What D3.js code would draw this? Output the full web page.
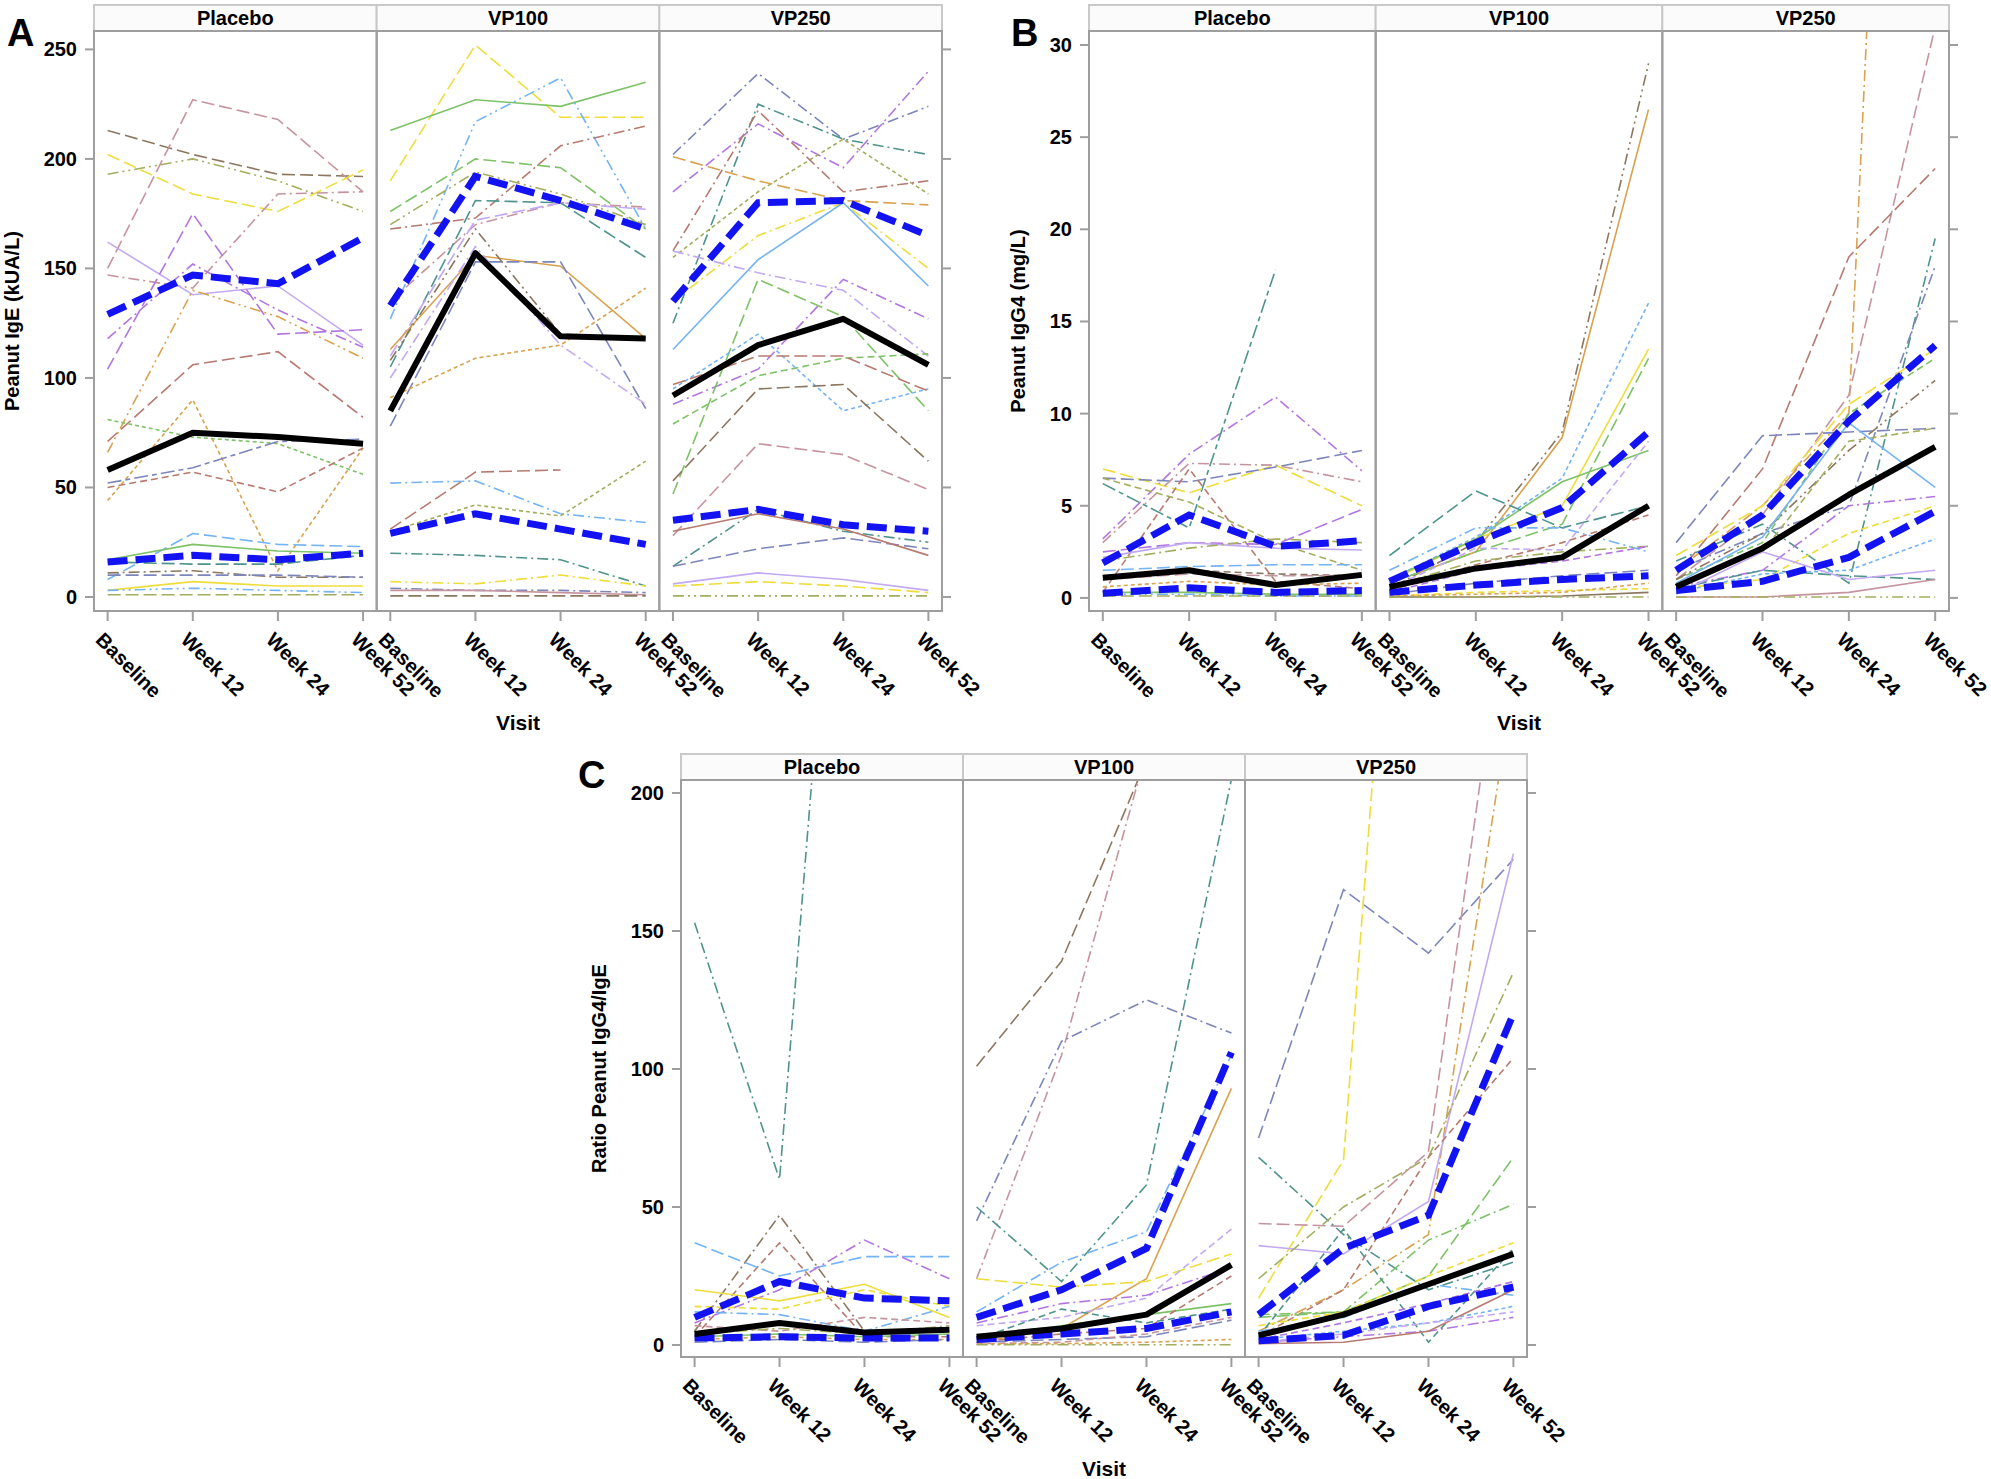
<!DOCTYPE html>
<html>
<head>
<meta charset="utf-8">
<script src="https://cdn.jsdelivr.net/npm/d3@7"></script>
<style>
  body { margin: 0; background: #fff; }
  svg text { font-family: "Liberation Sans", Arial, sans-serif; font-weight: bold; fill: #000; }
</style>
</head>
<body>
<script>
// visits and arms
const visits = ["Baseline", "Week 12", "Week 24", "Week 52"];
const arms = ["Placebo", "VP100", "VP250"];

// ---- Panel A: peanut IgE (kUA/L), one row per subject ----
const igePlacebo = [
  [213,202,193,192],[150,227,218,185],[202,184,176,195],[193,200,190,176],
  [147,141,184,185],[162,138,142,115],[104,175,120,122],[118,152,131,114],
  [66,140,128,109],[71,106,112,82],[44,90,12,68],[81,73,70,56],
  [52,59,71,72],[50,57,48,68],[8,29,24,23],[17,24,21,20],
  [16,15,15,19],[11,12,9,9],[10,10,10,9],[3,7,5,5],[3,4,3,2],[1,1,1,1]
];
const igePlaceboStyle = ["brown/LD","pink/LD","yellow/LD","olive/DDD","pink/DD","lavender/S","violet/LD","violet/DD",
  "tan/DDD","red/LD","tan/SD","green/SD","slate/LDSD","red/D","blue/LD","green/S",
  "teal/LD","brown/DD","slate/LD","yellow/S","blue/DDD","olive/LD"];

const igeVP100 = [
  [190,252,219,219],[213,227,224,235],[127,217,237,168],[168,173,206,215],
  [176,200,196,168],[170,194,184,170],[135,170,180,178],[105,181,180,155],
  [110,172,180,177],[113,156,151,118],[78,153,153,86],[108,168,120,118],
  [91,109,115,141],[100,160,115,88],[31,57,58,null],[52,53,38,34],
  [30,42,37,62],[20,19,17,5],[7,6,10,5],[4,3,3,2],[3,3,2,1],[0.5,0.5,0.5,0.5]
];
const igeVP100Style = ["yellow/LD","green/S","blue/DDD","red/DD","green/LD","olive/DDD","pink/DD","teal/LD",
  "lavender/LD","tan/S","slate/LD","brown/DDD","tan/SD","lavender/DD","red/LD","blue/DD",
  "olive/SD","teal/DD","yellow/DD","slate/DD","pink/S","brown/LD"];

const igeVP250 = [
  [202,239,209,224],[185,216,196,240],[125,225,209,202],[155,185,209,184],
  [158,222,185,190],[201,190,181,179],[135,165,180,150],[113,154,180,142],
  [158,148,140,110],[88,104,145,127],[47,145,128,85],[79,101,109,111],
  [95,120,85,95],[97,110,110,94],[53,95,97,62],[28,70,65,49],
  [14,40,30,25],[14,22,27,22],[30,38,31,19],[6,11,8,3],[5,7,5,2],[0.5,0.5,0.5,0.5]
];
const igeVP250Style = ["slate/DD","violet/DD","teal/DD","olive/SD","red/DD","tan/LD","yellow/DD","blue/S",
  "lavender/DD","violet/DD","green/LD","green/D","blue/SD","red/LD","brown/LD","pink/LD",
  "teal/DD","slate/LD","red/S","lavender/S","yellow/LD","olive/DDD"];

const igeMedian = [[58,75,73,70],[85,157,119,118],[92,115,127,106]];
const igeQ1 = [[16,19,17,20],[29,38,31,24],[35,40,33,30]];
const igeQ3 = [[129,147,143,164],[133,192,181,168],[135,180,181,165]];

// ---- Panel B: peanut IgG4 (mg/L) ----
const igg4Placebo = [
  [6.2,3.8,17.8,null],[3.2,7.8,10.9,6.9],[7.0,5.7,7.2,5.0],[6.5,6.3,7.1,8.0],
  [3.0,7.3,7.2,6.3],[0.3,7.0,0.9,0.5],[6.5,5.2,3.0,1.5],[2.5,3.0,2.9,4.8],
  [2.2,3.0,2.7,2.6],[2.0,2.7,3.2,3.0],[1.5,1.7,1.8,1.8],[1.2,1.5,1.3,1.2],
  [1.0,1.3,1.2,1.2],[0.6,0.9,0.7,0.8],[0.3,0.3,0.2,0.2],[0.2,0.2,0.1,0.1],[0.1,0.1,0.1,0.1]
];
const igg4PlaceboStyle = ["teal/LDSD","violet/DD","yellow/LD","slate/LD","pink/DD","red/D","olive/D","violet/LD",
  "lavender/S","olive/DD","blue/LD","brown/D","pink/LD","tan/SD","green/S","blue/DDD","olive/LD"];

const igg4VP100 = [
  [0.5,3.0,9.0,29.0],[0.8,2.5,8.7,26.5],[1.0,3.3,6.5,16.0],[0.9,3.2,5.0,13.5],
  [0.8,2.5,4.0,13.0],[1.0,3.2,6.3,8.0],[2.3,5.8,3.8,5.0],[1.5,3.8,3.8,2.5],
  [0.5,2.7,2.6,8.5],[0.4,1.8,3.0,4.5],[0.6,2.0,2.5,2.8],[0.3,1.5,2.0,2.8],
  [0.2,0.8,1.2,1.5],[0.1,0.3,0.4,0.5],[0.1,0.2,0.3,0.8],[0.05,0.05,0.1,0.3],[0.05,0.05,0.05,0.05]
];
const igg4VP100Style = ["brown/DDD","tan/S","blue/SD","yellow/S","green/LD","green/S","teal/LD","blue/DD",
  "lavender/D","red/D","olive/DD","violet/D","slate/LD","yellow/D","tan/SD","brown/S","olive/DDD"];

const igg4VP250 = [
  [1.5,5.0,10.0,110],[1.0,4.5,11,31],[1.2,7.0,18.5,23.3],[3.0,8.8,9.0,9.2],
  [2.0,4.0,0.8,19.5],[1.5,3.5,5.0,18.0],[2.3,5.0,10.5,13.5],[1.0,3.0,10.0,13.0],
  [1.0,3.5,8.0,11.8],[0.8,2.5,8.5,9.2],[0.8,3.3,9.5,6.0],[0.6,1.5,5.0,5.5],
  [0.5,1.0,3.5,5.0],[0.5,1.5,1.2,1.0],[0.3,1.3,1.5,3.2],[0.2,2.5,1.0,1.5],
  [0.05,0.05,0.3,1.0],[0.05,0.05,0.05,0.05]
];
const igg4VP250Style = ["tan/DD","pink/LD","red/LD","slate/LD","teal/DD","slate/DD","yellow/LD","green/D",
  "brown/DDD","olive/D","blue/S","violet/DD","yellow/D","teal/LD","blue/SD","lavender/S","pink/S","olive/DDD"];

const igg4Median = [[1.1,1.5,0.7,1.25],[0.6,1.6,2.2,5.0],[0.6,2.7,5.6,8.2]];
const igg4Q1 = [[0.25,0.55,0.3,0.4],[0.3,0.7,1.0,1.2],[0.4,0.9,2.2,4.7]];
const igg4Q3 = [[1.9,4.5,2.8,3.1],[0.9,3.0,4.9,9.0],[1.5,4.5,9.6,13.7]];

// ---- Panel C: ratio peanut IgG4/IgE ----
const ratioPlacebo = [
  [153,60,440,400],[5,47,5,5],[3,37,3,3],[37,25,32,32],[8,20,38,24],
  [20,16,22,10],[14,13,20,14],[12,11,5,14],[7,5,10,8],[4,6,4,7],
  [3,4,3,4],[2,3,2,2],[1,2,1,2]
];
const ratioPlaceboStyle = ["teal/DD","brown/DD","red/D","blue/LD","violet/DD","yellow/S","yellow/D","blue/DD",
  "pink/D","olive/DD","green/S","tan/SD","slate/LD"];

const ratioVP100 = [
  [101,139,212,300],[24,105,215,350],[45,110,125,113],[50,23,58,205],
  [12,30,41,105],[1,6,24,93],[24,21,23,33],[7,10,17,42],
  [8,15,18,28],[3,7,11,15],[2,13,8,13],[1,4,6,25],
  [1,2,3,9],[0.5,1,4,10],[0.3,0.5,1,2],[0.1,0.1,0.1,0.1]
];
const ratioVP100Style = ["brown/LD","pink/DD","slate/DD","teal/DD","blue/DD","tan/S","yellow/LD","lavender/D",
  "violet/DD","green/S","teal/D","red/D","slate/LD","pink/D","tan/SD","olive/DDD"];

const ratioVP250 = [
  [75,165,142,176],[17,67,470,450],[44,43,70,290],[5,20,40,240],
  [36,33,52,178],[68,40,20,30],[24,50,68,135],[3,20,68,104],
  [10,12,25,68],[11,12,38,51],[7,12,25,37],[5,10,22,18],
  [3,42,1,35],[2,8,15,23],[2,5,8,14],[1,3,5,10],[0.5,1,5,20],[1,4,8,12]
];
const ratioVP250Style = ["slate/LD","yellow/LD","pink/LD","tan/DD","lavender/S","teal/DD","olive/DD","red/D",
  "green/LD","green/DD","yellow/D","blue/DD","teal/D","violet/D","blue/SD","violet/DD","red/S","lavender/D"];

const ratioMedian = [[4,8,4.5,5.5],[3,6,11,29],[3.5,11,22,33]];
const ratioQ1 = [[2.5,3,2.5,2.5],[2,4,6,12],[1.5,3.5,14,21]];
const ratioQ3 = [[10,23,17,16],[10,20,35,106],[11,35,47,120]];

// y tick values
const igeTicks = [0, 50, 100, 150, 200, 250];
const igg4Ticks = [0, 5, 10, 15, 20, 25, 30];
const ratioTicks = [0, 50, 100, 150, 200];

// subject line colours (SAS palette, faded) and dash patterns
const colors = {
  slate: "#7d86ba", red: "#b77a70", teal: "#4f948c", brown: "#8c7760",
  violet: "#b176e2", olive: "#a4ad5e", blue: "#74b3f4", pink: "#c6949f",
  tan: "#d9a24f", green: "#7dc267", lavender: "#c2a9f2", yellow: "#eedd3a"
};
const dashes = {
  S: null, SD: "4,3", D: "7,4", LD: "13,5", DD: "11,4,2,4", DDD: "11,4,2,4,2,4", LDSD: "14,4,5,4"
};

const panels = [
  { letter: "A", lx: 7, ly: 46, left: 94, right: 942, top: 31, bottom: 611,
    yDomain: [-6.4, 258.4], ticks: igeTicks, title: "Peanut IgE (kUA/L)",
    rows: [igePlacebo, igeVP100, igeVP250], styles: [igePlaceboStyle, igeVP100Style, igeVP250Style],
    med: igeMedian, q1: igeQ1, q3: igeQ3 },
  { letter: "B", lx: 1011, ly: 46, left: 1089, right: 1949, top: 31, bottom: 611,
    yDomain: [-0.71, 30.76], ticks: igg4Ticks, title: "Peanut IgG4 (mg/L)",
    rows: [igg4Placebo, igg4VP100, igg4VP250], styles: [igg4PlaceboStyle, igg4VP100Style, igg4VP250Style],
    med: igg4Median, q1: igg4Q1, q3: igg4Q3 },
  { letter: "C", lx: 578, ly: 788, left: 681, right: 1527, top: 780, bottom: 1357,
    yDomain: [-4.35, 204.7], ticks: ratioTicks, title: "Ratio Peanut IgG4/IgE",
    rows: [ratioPlacebo, ratioVP100, ratioVP250], styles: [ratioPlaceboStyle, ratioVP100Style, ratioVP250Style],
    med: ratioMedian, q1: ratioQ1, q3: ratioQ3 }
];

const svg = d3.select("body").append("svg")
  .attr("width", 1991).attr("height", 1479);

const frameColor = "#9e9e9e";

panels.forEach((p, pi) => {
  const g = svg.append("g");
  const y = d3.scaleLinear().domain(p.yDomain).range([p.bottom, p.top]);
  const facetW = (p.right - p.left) / 3;

  // panel letter
  g.append("text").attr("x", p.lx).attr("y", p.ly)
    .style("font-size", "38px").text(p.letter);

  arms.forEach((arm, ai) => {
    const fl = p.left + ai * facetW, fr = fl + facetW;
    const x = d3.scalePoint().domain(visits).range([fl, fr]).padding(0.16);
    const clipId = `clip-${pi}-${ai}`;
    g.append("clipPath").attr("id", clipId).append("rect")
      .attr("x", fl).attr("y", p.top).attr("width", facetW).attr("height", p.bottom - p.top);

    // strip header
    g.append("rect").attr("x", fl).attr("y", p.top - 26).attr("width", facetW).attr("height", 26)
      .attr("fill", "#fbfbfb").attr("stroke", "#c9c9c9").attr("stroke-width", 2);
    g.append("text").attr("x", (fl + fr) / 2).attr("y", p.top - 6)
      .attr("text-anchor", "middle").style("font-size", "20px").text(arm);

    const line = d3.line()
      .defined(v => v !== null)
      .x((v, i) => x(visits[i]))
      .y(v => y(v));

    const lines = g.append("g").attr("clip-path", `url(#${clipId})`);

    // individual subjects
    p.rows[ai].forEach((row, ri) => {
      const [c, d] = p.styles[ai][ri].split("/");
      lines.append("path").attr("d", line(row))
        .attr("fill", "none").attr("stroke", colors[c]).attr("stroke-width", 1.6)
        .attr("stroke-dasharray", dashes[d]);
    });

    // quartiles and median
    [p.q1[ai], p.q3[ai]].forEach(q => {
      lines.append("path").attr("d", line(q))
        .attr("fill", "none").attr("stroke", "#1212f2").attr("stroke-width", 7)
        .attr("stroke-dasharray", "20,8");
    });
    lines.append("path").attr("d", line(p.med[ai]))
      .attr("fill", "none").attr("stroke", "#000").attr("stroke-width", 6)
      .attr("stroke-linejoin", "round");

    // facet frame
    g.append("rect").attr("x", fl).attr("y", p.top).attr("width", facetW).attr("height", p.bottom - p.top)
      .attr("fill", "none").attr("stroke", frameColor).attr("stroke-width", 2);

    // x ticks and rotated labels
    visits.forEach(v => {
      const tx = x(v);
      g.append("line").attr("x1", tx).attr("x2", tx).attr("y1", p.bottom).attr("y2", p.bottom + 10)
        .attr("stroke", frameColor).attr("stroke-width", 2);
      g.append("text")
        .attr("transform", `translate(${tx - 13},${p.bottom + 30}) rotate(45)`)
        .style("font-size", "20px").text(v);
    });
  });

  // y ticks, left with labels and right without
  p.ticks.forEach(t => {
    const ty = y(t);
    g.append("line").attr("x1", p.left - 9).attr("x2", p.left).attr("y1", ty).attr("y2", ty)
      .attr("stroke", frameColor).attr("stroke-width", 2);
    g.append("line").attr("x1", p.right).attr("x2", p.right + 9).attr("y1", ty).attr("y2", ty)
      .attr("stroke", frameColor).attr("stroke-width", 2);
    g.append("text").attr("x", p.left - 17).attr("y", ty).attr("dy", "0.35em")
      .attr("text-anchor", "end").style("font-size", "20px").text(t);
  });

  // axis titles
  const maxLen = d3.max(p.ticks, t => String(t).length);
  const tx = p.left - 17 - maxLen * 11 - 25;
  g.append("text")
    .attr("transform", `translate(${tx},${(p.top + p.bottom) / 2}) rotate(-90)`)
    .attr("text-anchor", "middle").style("font-size", "20px").text(p.title);
  g.append("text").attr("x", (p.left + p.right) / 2).attr("y", p.bottom + 119)
    .attr("text-anchor", "middle").style("font-size", "21px").text("Visit");
});
</script>
</body>
</html>
